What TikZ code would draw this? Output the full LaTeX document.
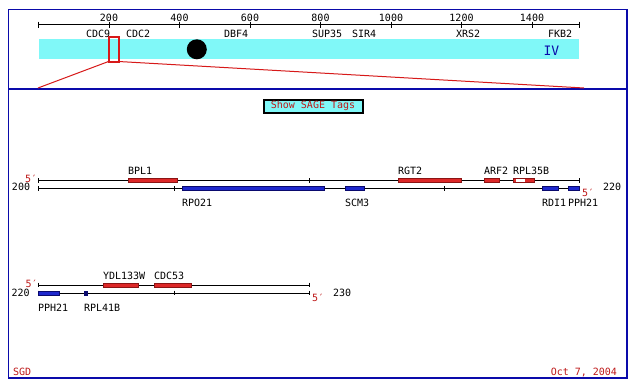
\documentclass[tikz,border=0pt]{standalone}
\usepackage{fontspec}
\newfontfamily\gd{DejaVu Sans Mono}
\definecolor{frameblue}{RGB}{10,10,170}
\definecolor{bandcyan}{RGB}{128,248,248}
\definecolor{zoomred}{RGB}{215,25,25}
\definecolor{genered}{RGB}{221,40,40}
\definecolor{generedd}{RGB}{140,20,20}
\definecolor{geneblue}{RGB}{30,40,205}
\definecolor{genebluedd}{RGB}{10,10,110}
\definecolor{txtred}{RGB}{190,25,25}
\tikzset{
  lbl/.style={font=\gd\fontsize{10}{10}\selectfont, inner sep=0, outer sep=0, anchor=base west},
  clbl/.style={lbl, anchor=base},
  rlbl/.style={lbl, text=txtred},
  strand/.style={black, line width=0.8},
  redgene/.style={fill=genered, draw=generedd, line width=0.6},
  bluegene/.style={fill=geneblue, draw=genebluedd, line width=0.6},
}
\begin{document}
\begin{tikzpicture}[x=1pt,y=-1pt]
\useasboundingbox (0,0) rectangle (636,388);
\fill[white] (0,0) rectangle (636,388);
% frame
\draw[frameblue, line width=1.2] (8.5,9.5) rectangle (627,378);
\draw[frameblue, line width=2] (8.5,89) -- (627,89);
% chromosome axis
\draw[strand] (38.5,24.5) -- (579,24.5);
\foreach \x in {38.5,109,179.5,250,320.5,391,461.5,532,579}
  \draw[strand] (\x,21.5) -- (\x,27.5);
\foreach \v/\x in {200/109,400/179.5,600/250,800/320.5,1000/391,1200/461.5,1400/532}
  \node[clbl] (t\v) at (\x,21.5) {\v};
% band
\fill[bandcyan] (38.5,39) rectangle (579,59);
\node[lbl] (gCDC9) at (86,37.5) {CDC9};
\node[lbl] (gCDC2) at (126,37.5) {CDC2};
\node[lbl] (gDBF4) at (224,37.5) {DBF4};
\node[lbl] (gSUP35) at (312,37.5) {SUP35};
\node[lbl] (gSIR4) at (352,37.5) {SIR4};
\node[lbl] (gXRS2) at (456,37.5) {XRS2};
\node[lbl] (gFKB2) at (548,37.5) {FKB2};
\node[lbl, font=\gd\fontsize{13}{13}\selectfont, text=frameblue] (chrIV) at (543.5,55) {IV};
\fill[black] (196.8,49.3) circle (10);
% zoom window
\node[draw=zoomred, line width=2, minimum width=10, minimum height=25, inner sep=0, outer sep=0] (win) at (113.5,49) {};
\coordinate (zl) at (38,88);
\coordinate (zr) at (584,88);
\draw[zoomred, line width=1] (zl) -- (win.south west);
\draw[zoomred, line width=1] (win.south east) -- (zr);
% SAGE button
\node[draw=black, line width=2, fill=bandcyan, minimum width=99, minimum height=13, inner sep=0] (sage) at (313,106) {};
\node[lbl, anchor=center, text=txtred] (sagetxt) at (313,106) {Show SAGE Tags};
% ---------- row 1
\draw[strand] (38.7,180.3) -- (579,180.3);
\draw[strand] (38.7,188.3) -- (579,188.3);
\foreach \x in {38.7,309,579} \draw[strand] (\x,178) -- (\x,182.6);
\foreach \x in {38.7,174,444,579} \draw[strand] (\x,186) -- (\x,190.6);
\draw[redgene] (128,178) rectangle (177,182.5);
\draw[redgene] (398,178) rectangle (461,182.5);
\draw[redgene] (484,178) rectangle (499,182.5);
\draw[redgene] (513,178) rectangle (534,182.5);
\fill[white] (516,178.9) rectangle (525,181.6);
\draw[bluegene] (182,186) rectangle (324,190.5);
\draw[bluegene] (345,186) rectangle (364,190.5);
\draw[bluegene] (542,186) rectangle (558,190.5);
\draw[bluegene] (568,186) rectangle (579,190.5);
\node[lbl] (lBPL1) at (128,174) {BPL1};
\node[lbl] (lRGT2) at (398,174) {RGT2};
\node[lbl] (lARF2) at (484,174) {ARF2};
\node[lbl] (lRPL35B) at (513,174) {RPL35B};
\node[lbl] (lRPO21) at (182,206.5) {RPO21};
\node[lbl] (lSCM3) at (345,206.5) {SCM3};
\node[lbl] (lRDI1) at (542,206.5) {RDI1};
\node[lbl] (lPPH21a) at (568,206.5) {PPH21};
\node[rlbl] (p1l) at (25,182.3) {5′};
\node[lbl] (n200) at (12,190.5) {200};
\node[rlbl] (p1r) at (582,196.5) {5′};
\node[lbl] (n220a) at (603,190.5) {220};
% ---------- row 2
\draw[strand] (38.7,285) -- (309,285);
\draw[strand] (38.7,293) -- (309,293);
\foreach \x in {38.7,309} \draw[strand] (\x,282.7) -- (\x,287.3);
\foreach \x in {38.7,174,309} \draw[strand] (\x,290.7) -- (\x,295.3);
\draw[redgene] (103,283) rectangle (138,287.5);
\draw[redgene] (154,283) rectangle (191,287.5);
\draw[bluegene] (38.5,291) rectangle (59,295.5);
\draw[bluegene, fill=genebluedd] (84.5,291) rectangle (87,295.5);
\node[lbl] (lYDL) at (103,279) {YDL133W};
\node[lbl] (lCDC53) at (154,279) {CDC53};
\node[lbl] (lPPH21b) at (38,311.5) {PPH21};
\node[lbl] (lRPL41B) at (84,311.5) {RPL41B};
\node[rlbl] (p2l) at (25.5,287.5) {5′};
\node[lbl] (n220b) at (11.7,296.5) {220};
\node[rlbl] (p2r) at (312,301.5) {5′};
\node[lbl] (n230) at (333,296) {230};
% footer
\node[rlbl] (sgd) at (13,375) {SGD};
\node[rlbl, anchor=base east] (date) at (617,375) {Oct 7, 2004};
\end{tikzpicture}
\end{document}
